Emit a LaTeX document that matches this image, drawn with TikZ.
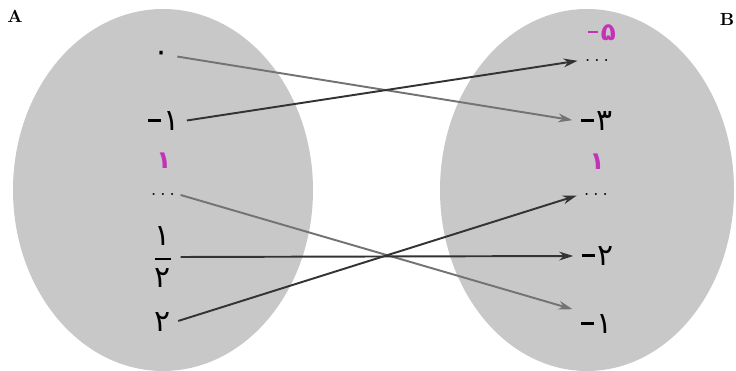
\documentclass[tikz,border=0pt]{standalone}
\usepackage{amsmath}
\usepackage{fontspec}
\newfontfamily\arabicfont[Script=Arabic]{DejaVu Sans}
\usepackage{xcolor}
\usetikzlibrary{arrows.meta,positioning}
\definecolor{setgray}{RGB}{200,200,200}
\definecolor{handpink}{RGB}{196,50,184}
\newcommand{\fa}[1]{{\arabicfont #1}}
\newcommand{\mn}{\rule[0.3em]{0.42em}{1.4pt}\kern1.5pt}

\begin{document}
\begin{tikzpicture}[
    x=0.02cm, y=-0.02cm,
    setbox/.style={fill=setgray, draw=none},
    num/.style={
        inner sep=2pt,
        font=\fontsize{17}{19}\selectfont
    },
    dotsnode/.style={inner sep=1pt, font=\fontsize{12}{14}\selectfont},
    hand/.style={
        inner sep=0pt,
        text=handpink,
        font=\fontsize{14}{16}\selectfont\bfseries
    },
    setname/.style={font=\bfseries},
    maparrow/.style={draw, line width=1.1pt, -{Stealth[length=8pt,width=5pt]}, shorten >=3pt, shorten <=2pt},
    darkarrow/.style={maparrow, color=black!80},
    greyarrow/.style={maparrow, color=black!55}
]
\useasboundingbox (0,0) rectangle (736,371);

% Sets
\fill[setbox] (163,190) ellipse [x radius=150, y radius=181];
\fill[setbox] (587,190) ellipse [x radius=147, y radius=181];

% Set names
\node[setname] (A) at (15,16) {A};
\node[setname] (B) at (727,19) {B};

% Domain A
\node[num] (zero) at (162,56) {\fa{۰}};
\node[num] (mone) at (164,121) {\mn\fa{۱}};
\node[dotsnode] (ldots) at (163,194) {$\ldots$};
\node[hand] (lone) at (164,161) {\fa{۱}};
\node[num] (half) at (163,257) {$\genfrac{}{}{1.3pt}{0}{\hbox{\fa{۱}}}{\hbox{\fa{۲}}}$};
\node[num] (two) at (163,322) {\fa{۲}};

% Codomain B
\node[dotsnode] (rdotsA) at (597,60) {$\ldots$};
\node[hand] (mfive) at (602,33) {\mn\fa{۵}};
\node[num] (mthree) at (597,121) {\mn\fa{۳}};
\node[dotsnode] (rdotsB) at (596,194) {$\ldots$};
\node[hand] (rone) at (597,162) {\fa{۱}};
\node[num] (mtwo) at (598,256) {\mn\fa{۲}};
\node[num] (rmone) at (597,324) {\mn\fa{۱}};

% Mapping
\draw[greyarrow] (zero.east) -- (mthree.west);
\draw[darkarrow] (mone.east) -- (rdotsA.west);
\draw[greyarrow] (ldots.east) -- (rmone.north west);
\draw[darkarrow] (half.east) -- (mtwo.west);
\draw[darkarrow] (two.east) -- (rdotsB.west);

\end{tikzpicture}
\end{document}
